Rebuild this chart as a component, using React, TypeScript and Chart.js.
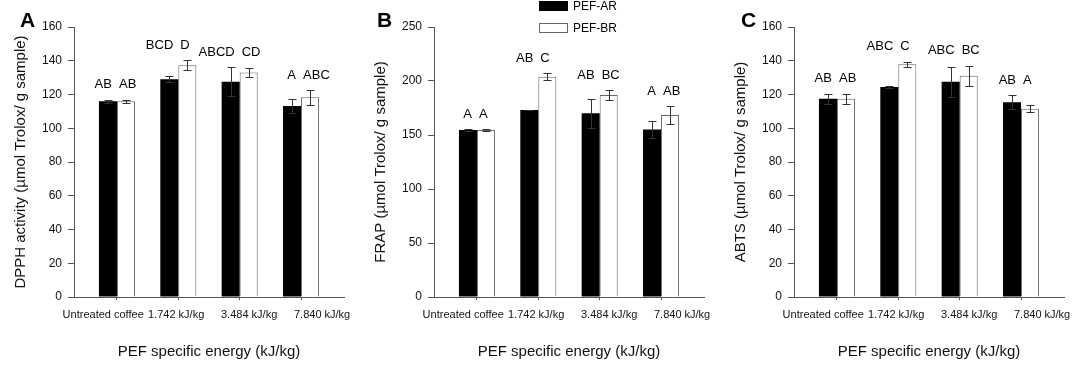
import React, { useEffect, useRef } from "react";
import { Chart, registerables } from "chart.js";

Chart.register(...registerables);

const FONT = "'Liberation Sans', Arial, Helvetica, sans-serif";
Chart.defaults.font.family = FONT;

const categories = ["Untreated coffee", "1.742 kJ/kg", "3.484 kJ/kg", "7.840 kJ/kg"];
const seriesLabels = ["PEF-AR", "PEF-BR"];
const xTitle = "PEF specific energy (kJ/kg)";

// Panel A – DPPH
const dpphAR = [116, 129, 127.6, 113.2];
const dpphARErr = [1, 1.8, 8.5, 4];
const dpphBR = [116, 137.3, 133.1, 118.3];
const dpphBRErr = [1, 3, 2.7, 4.3];
const dpphARLetters = ["AB", "BCD", "ABCD", "A"];
const dpphBRLetters = ["AB", "D", "CD", "ABC"];

// Panel B – FRAP
const frapAR = [154.6, 173.1, 170.1, 155.2];
const frapARErr = [0.5, 0.4, 13.2, 7.6];
const frapBR = [154.6, 204, 187, 168.5];
const frapBRErr = [0.5, 3.2, 4.3, 7.9];
const frapARLetters = ["A", "AB", "AB", "A"];
const frapBRLetters = ["A", "C", "BC", "AB"];

// Panel C – ABTS
const abtsAR = [117.5, 124.4, 127.6, 115.4];
const abtsARErr = [3, 0.8, 8.9, 4.2];
const abtsBR = [117.5, 137.9, 131.1, 111.6];
const abtsBRErr = [3, 1.5, 5.9, 2.1];
const abtsARLetters = ["AB", "ABC", "ABC", "AB"];
const abtsBRLetters = ["AB", "C", "BC", "A"];

type Panel = {
  tag: string;
  yTitle: string;
  yMax: number;
  yStep: number;
  ar: number[];
  arErr: number[];
  br: number[];
  brErr: number[];
  arLetters: string[];
  brLetters: string[];
  legend: boolean;
  tagX: number;
};

const panels: Panel[] = [
  {
    tag: "A", yTitle: "DPPH activity (\u00B5mol Trolox/ g sample)", yMax: 160, yStep: 20,
    ar: dpphAR, arErr: dpphARErr, br: dpphBR, brErr: dpphBRErr,
    arLetters: dpphARLetters, brLetters: dpphBRLetters, legend: false, tagX: 20,
  },
  {
    tag: "B", yTitle: "FRAP (\u00B5mol Trolox/ g sample)", yMax: 250, yStep: 50,
    ar: frapAR, arErr: frapARErr, br: frapBR, brErr: frapBRErr,
    arLetters: frapARLetters, brLetters: frapBRLetters, legend: true, tagX: 17,
  },
  {
    tag: "C", yTitle: "ABTS (\u00B5mol Trolox/ g sample)", yMax: 160, yStep: 20,
    ar: abtsAR, arErr: abtsARErr, br: abtsBR, brErr: abtsBRErr,
    arLetters: abtsARLetters, brLetters: abtsBRLetters, legend: false, tagX: 21,
  },
];

const AXIS = "#555";

function overlayPlugin(panel: Panel) {
  return {
    id: "overlay" + panel.tag,
    afterDatasetsDraw(chart: any) {
      const ctx = chart.ctx;
      const xs = chart.scales.x;
      const ys = chart.scales.y;
      const dss = chart.data.datasets;
      ctx.save();
      ctx.strokeStyle = "#333";
      ctx.lineWidth = 1;
      dss.forEach((ds: any, di: number) => {
        const meta = chart.getDatasetMeta(di);
        meta.data.forEach((el: any, j: number) => {
          const v = ds.data[j].y;
          const e = ds.errors[j];
          const x = Math.round(el.x) + 0.5;
          const yt = Math.round(ys.getPixelForValue(v + e)) + 0.5;
          const yb = Math.round(ys.getPixelForValue(v - e)) + 0.5;
          ctx.beginPath();
          ctx.moveTo(x, yt);
          ctx.lineTo(x, yb);
          ctx.moveTo(x - 4, yt);
          ctx.lineTo(x + 4, yt);
          ctx.moveTo(x - 4, yb);
          ctx.lineTo(x + 4, yb);
          ctx.stroke();
        });
      });
      ctx.font = `13px ${FONT}`;
      ctx.fillStyle = "#000";
      ctx.textBaseline = "middle";
      categories.forEach((_, j) => {
        let top = Infinity;
        dss.forEach((ds: any) => {
          top = Math.min(top, ys.getPixelForValue(ds.data[j].y + ds.errors[j]));
        });
        const y = top - 15;
        const tx = xs.getPixelForValue(j);
        dss.forEach((ds: any, di: number) => {
          ctx.textAlign = di === 0 ? "right" : "left";
          ctx.fillText(ds.letters[j], di === 0 ? tx - 5 : tx + 2, y);
        });
      });
      ctx.restore();
    },
    afterDraw(chart: any) {
      const ctx = chart.ctx;
      ctx.save();
      ctx.fillStyle = "#000";
      ctx.font = `bold 21px ${FONT}`;
      ctx.textAlign = "left";
      ctx.textBaseline = "alphabetic";
      ctx.fillText(panel.tag, panel.tagX, 27);
      if (panel.legend) {
        const dss = chart.data.datasets;
        const rows = [6, 28];
        dss.forEach((ds: any, di: number) => {
          const cy = rows[di];
          ctx.fillStyle = ds.backgroundColor;
          ctx.fillRect(179.5, cy - 4.5, 28, 9);
          ctx.strokeStyle = di === 0 ? "#000" : "#666";
          ctx.lineWidth = 1;
          ctx.strokeRect(179.5, cy - 4.5, 28, 9);
          ctx.fillStyle = "#000";
          ctx.font = `12px ${FONT}`;
          ctx.textBaseline = "middle";
          ctx.fillText(ds.label, 213, cy + 0.5);
        });
      }
      ctx.restore();
    },
  };
}

function makeConfig(panel: Panel): any {
  return {
    type: "bar",
    data: {
      datasets: [
        {
          label: seriesLabels[0],
          data: panel.ar.map((v, i) => ({ x: i, y: v })),
          errors: panel.arErr,
          letters: panel.arLetters,
          backgroundColor: "#000",
          borderColor: "#000",
          borderWidth: 0,
        },
        {
          label: seriesLabels[1],
          data: panel.br.map((v, i) => ({ x: i, y: v })),
          errors: panel.brErr,
          letters: panel.brLetters,
          backgroundColor: "#fff",
          borderColor: "#666",
          borderWidth: 1,
        },
      ],
    },
    options: {
      animation: false,
      responsive: false,
      maintainAspectRatio: false,
      categoryPercentage: 0.587,
      barPercentage: 1,
      layout: { padding: { top: 27, right: 16, left: 0, bottom: 0 } },
      plugins: { legend: { display: false }, tooltip: { enabled: false } },
      scales: {
        x: {
          type: "linear",
          position: "bottom",
          weight: 0,
          offset: false,
          min: -0.7,
          max: 3.7,
          afterBuildTicks: (s: any) => {
            s.ticks = categories.map((_, i) => ({ value: i }));
          },
          grid: { drawOnChartArea: false, tickLength: 3, color: AXIS, offset: false },
          border: { color: AXIS, width: 1 },
          ticks: { display: false },
        },
        x2: {
          type: "linear",
          position: "bottom",
          weight: 1,
          offset: false,
          min: -0.4,
          max: 3.3,
          afterBuildTicks: (s: any) => {
            s.ticks = categories.map((_, i) => ({ value: i }));
          },
          grid: { display: false, drawTicks: false, offset: false },
          border: { display: false },
          ticks: {
            callback: (v: any) => categories[v] ?? "",
            font: { size: 11, family: FONT },
            color: "#111",
            padding: 8,
            maxRotation: 0,
            autoSkip: false,
          },
          title: {
            display: true,
            text: xTitle,
            font: { size: 15, family: FONT },
            color: "#111",
            padding: { top: 0, bottom: 5 },
          },
          afterFit: (s: any) => {
            s.height = 66;
          },
        },
        y: {
          min: 0,
          max: panel.yMax,
          afterBuildTicks: (s: any) => {
            const t = [];
            for (let v = 0; v <= panel.yMax; v += panel.yStep) t.push({ value: v });
            s.ticks = t;
          },
          grid: { drawOnChartArea: false, tickLength: 6, color: AXIS },
          border: { color: AXIS, width: 1 },
          ticks: { font: { size: 12, family: FONT }, color: "#111", padding: 6 },
          title: {
            display: true,
            text: panel.yTitle,
            font: { size: 15, family: FONT },
            color: "#111",
            padding: { top: 12, bottom: 0 },
          },
          afterFit: (s: any) => {
            s.width = 74;
          },
        },
      },
    },
    plugins: [overlayPlugin(panel)],
  };
}

function PanelChart({ panel, left }: { panel: Panel; left: number }) {
  const ref = useRef<HTMLCanvasElement>(null);
  useEffect(() => {
    const chart = new Chart(ref.current as HTMLCanvasElement, makeConfig(panel));
    return () => chart.destroy();
  }, [panel]);
  return (
    <div style={{ position: "absolute", left, top: 0, width: 360, height: 366 }}>
      <canvas ref={ref} width={360} height={366} style={{ width: 360, height: 366, display: "block" }} />
    </div>
  );
}

export default function App() {
  return (
    <div
      style={{
        position: "fixed",
        left: 0,
        top: 0,
        width: 1080,
        height: 366,
        background: "#fff",
        overflow: "hidden",
      }}
    >
      {panels.map((p, i) => (
        <PanelChart key={p.tag} panel={p} left={i * 360} />
      ))}
    </div>
  );
}
